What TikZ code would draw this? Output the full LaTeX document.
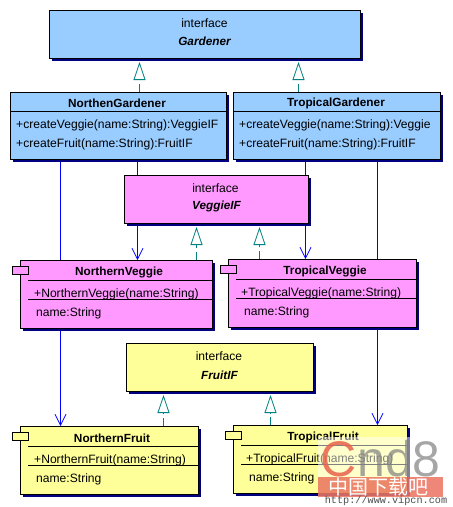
\documentclass[tikz,border=0pt]{standalone}
\usepackage{fontspec}
\setmainfont{Liberation Sans}
\newfontfamily\cjk{Noto Sans CJK SC}
\setmonofont{Liberation Mono}
\usetikzlibrary{arrows.meta,backgrounds,shadows}
\definecolor{gardenblue}{HTML}{99CCFF}
\definecolor{veggiepink}{HTML}{FF99FF}
\definecolor{fruityellow}{HTML}{FFFF99}
\definecolor{shadownavy}{HTML}{000080}
\definecolor{realizeteal}{HTML}{008080}
\definecolor{markred}{HTML}{E8604A}
\tikzset{
  umlbox/.style={draw,line width=1pt,drop shadow={shadow xshift=2.5pt,shadow yshift=-2.5pt,fill=shadownavy,opacity=1},inner sep=0pt},
  tabbox/.style={draw,line width=1pt,minimum width=16pt,minimum height=8.5pt,inner sep=0pt},
  title/.style={font=\bfseries\fontsize{11.8}{12}\selectfont,inner sep=0pt},
  plain/.style={font=\fontsize{12.1}{12}\selectfont,inner sep=0pt,anchor=base west},
  italicname/.style={font=\bfseries\itshape\fontsize{11.8}{12}\selectfont,inner sep=0pt},
  divider/.style={line width=1pt},
  assoc/.style={draw=blue,line width=1pt,-{Straight Barb[length=11pt,width=11pt,line width=0.7pt]}},
  realize/.style={draw=realizeteal,line width=1pt,dash pattern=on 8pt off 4pt,-{Triangle[open,fill=white,length=18pt,width=12pt,line width=0.8pt]},shorten >=3pt}
}
\begin{document}
\begin{tikzpicture}[x=1pt,y=-1pt]
        \useasboundingbox (0,0) rectangle (453,507);

        % Gardeners
        \node[umlbox,fill=gardenblue,minimum width=311pt,minimum height=48pt] (Gardener) at (205,34.5) {};
        \node[plain,anchor=center] (GardenerKind) at (204.5,23) {interface};
        \node[italicname] (GardenerName) at (204.5,41.5) {Gardener};
        \node[umlbox,fill=gardenblue,minimum width=216pt,minimum height=67pt] (NorthenGardener) at (118.5,125.5) {};
        \node[title] (NorthenGardenerName) at (117,103.5) {NorthenGardener};
        \node[plain] (NorthenGardenerA) at (16,128) {+createVeggie(name:String):VeggieIF};
        \node[plain] (NorthenGardenerB) at (16,147) {+createFruit(name:String):FruitIF};
        \node[umlbox,fill=gardenblue,minimum width=207pt,minimum height=67pt] (TropicalGardener) at (337,125.5) {};
        \node[title] (TropicalGardenerName) at (336,103.5) {TropicalGardener};
        \node[plain] (TropicalGardenerA) at (239,128) {+createVeggie(name:String):Veggie};
        \node[plain] (TropicalGardenerB) at (239,147) {+createFruit(name:String):FruitIF};

        % Veggies
        \node[umlbox,fill=veggiepink,minimum width=184pt,minimum height=48pt] (VeggieIF) at (216.5,199.5) {};
        \node[plain,anchor=center] (VeggieIFKind) at (215.5,188) {interface};
        \node[italicname] (VeggieIFName) at (216.5,206.5) {VeggieIF};
        \node[umlbox,fill=veggiepink,minimum width=192pt,minimum height=68pt] (NorthernVeggie) at (116.5,294.5) {};
        \node[tabbox,fill=veggiepink] (NorthernVeggieTab) at (20.5,270.5) {};
        \node[title] (NorthernVeggieName) at (119,272.5) {NorthernVeggie};
        \node[plain] (NorthernVeggieA) at (34,297) {+NorthernVeggie(name:String)};
        \node[plain] (NorthernVeggieB) at (36,316) {name:String};
        \node[umlbox,fill=veggiepink,minimum width=188pt,minimum height=68pt] (TropicalVeggie) at (322.5,293.5) {};
        \node[tabbox,fill=veggiepink] (TropicalVeggieTab) at (228.5,269.5) {};
        \node[title] (TropicalVeggieName) at (325,271.5) {TropicalVeggie};
        \node[plain] (TropicalVeggieA) at (241,296) {+TropicalVeggie(name:String)};
        \node[plain] (TropicalVeggieB) at (244,315) {name:String};

        % Fruits
        \node[umlbox,fill=fruityellow,minimum width=187pt,minimum height=48pt] (FruitIF) at (220,367.5) {};
        \node[plain,anchor=center] (FruitIFKind) at (219,356) {interface};
        \node[italicname] (FruitIFName) at (219.5,375) {FruitIF};
        \node[umlbox,fill=fruityellow,minimum width=178pt,minimum height=68pt] (NorthernFruit) at (109.5,460.5) {};
        \node[tabbox,fill=fruityellow] (NorthernFruitTab) at (20.5,436.5) {};
        \node[title] (NorthernFruitName) at (112,438.5) {NorthernFruit};
        \node[plain] (NorthernFruitA) at (34,463) {+NorthernFruit(name:String)};
        \node[plain] (NorthernFruitB) at (36,482) {name:String};
        \node[umlbox,fill=fruityellow,minimum width=174pt,minimum height=68pt] (TropicalFruit) at (320.5,459.5) {};
        \node[tabbox,fill=fruityellow] (TropicalFruitTab) at (233.5,435.5) {};
        \node[title] (TropicalFruitName) at (323,437.5) {TropicalFruit};
        \node[plain] (TropicalFruitA) at (246,462) {+TropicalFruit(name:String)};
        \node[plain] (TropicalFruitB) at (249,481) {name:String};

        % Compartment lines
        \draw[divider] (NorthenGardener.west |- 0,111) -- (NorthenGardener.east |- 0,111);
        \draw[divider] (TropicalGardener.west |- 0,111) -- (TropicalGardener.east |- 0,111);
        \draw[divider] (28,280.5) -- (NorthernVeggie.east |- 0,280.5);
        \draw[divider] (28,299.5) -- (NorthernVeggie.east |- 0,299.5);
        \draw[divider] (236,279.5) -- (TropicalVeggie.east |- 0,279.5);
        \draw[divider] (236,298.5) -- (TropicalVeggie.east |- 0,298.5);
        \draw[divider] (28,446.5) -- (NorthernFruit.east |- 0,446.5);
        \draw[divider] (28,465.5) -- (NorthernFruit.east |- 0,465.5);
        \draw[divider] (241,445.5) -- (TropicalFruit.east |- 0,445.5);
        \draw[divider] (241,464.5) -- (TropicalFruit.east |- 0,464.5);

        % Connectors, behind the boxes
        \coordinate (toNorthFruit) at (60.5,0);
        \coordinate (toNorthVeggie) at (137.5,0);
        \coordinate (toTropVeggie) at (305.5,0);
        \coordinate (toTropFruit) at (377.5,0);
        \coordinate (realGardenA) at (139.5,0);
        \coordinate (realGardenB) at (298.5,0);
        \coordinate (realVeggieA) at (196.5,0);
        \coordinate (realVeggieB) at (259.5,0);
        \coordinate (realFruitA) at (163.5,0);
        \coordinate (realFruitB) at (270.5,0);
        \begin{scope}[on background layer]
        \draw[assoc] (NorthenGardener.south -| toNorthFruit) -- (NorthernFruit.north -| toNorthFruit);
        \draw[assoc] (NorthenGardener.south -| toNorthVeggie) -- (NorthernVeggie.north -| toNorthVeggie);
        \draw[assoc] (TropicalGardener.south -| toTropVeggie) -- (TropicalVeggie.north -| toTropVeggie);
        \draw[assoc] (TropicalGardener.south -| toTropFruit) -- (TropicalFruit.north -| toTropFruit);
        \draw[realize] (NorthenGardener.north -| realGardenA) -- (Gardener.south -| realGardenA);
        \draw[realize] (TropicalGardener.north -| realGardenB) -- (Gardener.south -| realGardenB);
        \draw[realize] (NorthernVeggie.north -| realVeggieA) -- (VeggieIF.south -| realVeggieA);
        \draw[realize] (TropicalVeggie.north -| realVeggieB) -- (VeggieIF.south -| realVeggieB);
        \draw[realize] (NorthernFruit.north -| realFruitA) -- (FruitIF.south -| realFruitA);
        \draw[realize] (TropicalFruit.north -| realFruitB) -- (FruitIF.south -| realFruitB);
        \end{scope}

        % Watermark
        \fill[white,opacity=0.5] (318,437) rectangle (443,497);
        \fill[markred,opacity=0.75] (318,477) rectangle (443,497);
        \node[font=\fontsize{50}{50}\selectfont,text=markred,inner sep=0pt,text opacity=0.85,anchor=west] (markC) at (320,459) {C};
        \node[font=\fontsize{50}{50}\selectfont,text=gray,inner sep=0pt,text opacity=0.7,anchor=west] (markRest) at (357,459) {nd8};
        \node[font=\cjk\fontsize{20}{20}\selectfont,text=white,inner sep=0pt] (markCjk) at (378,487) {中国下载吧};
        \node[font=\ttfamily\fontsize{10.2}{10}\selectfont,text=black!70,inner sep=0pt] (markUrl) at (386,501) {http://www.vipcn.com};
\end{tikzpicture}
\end{document}
